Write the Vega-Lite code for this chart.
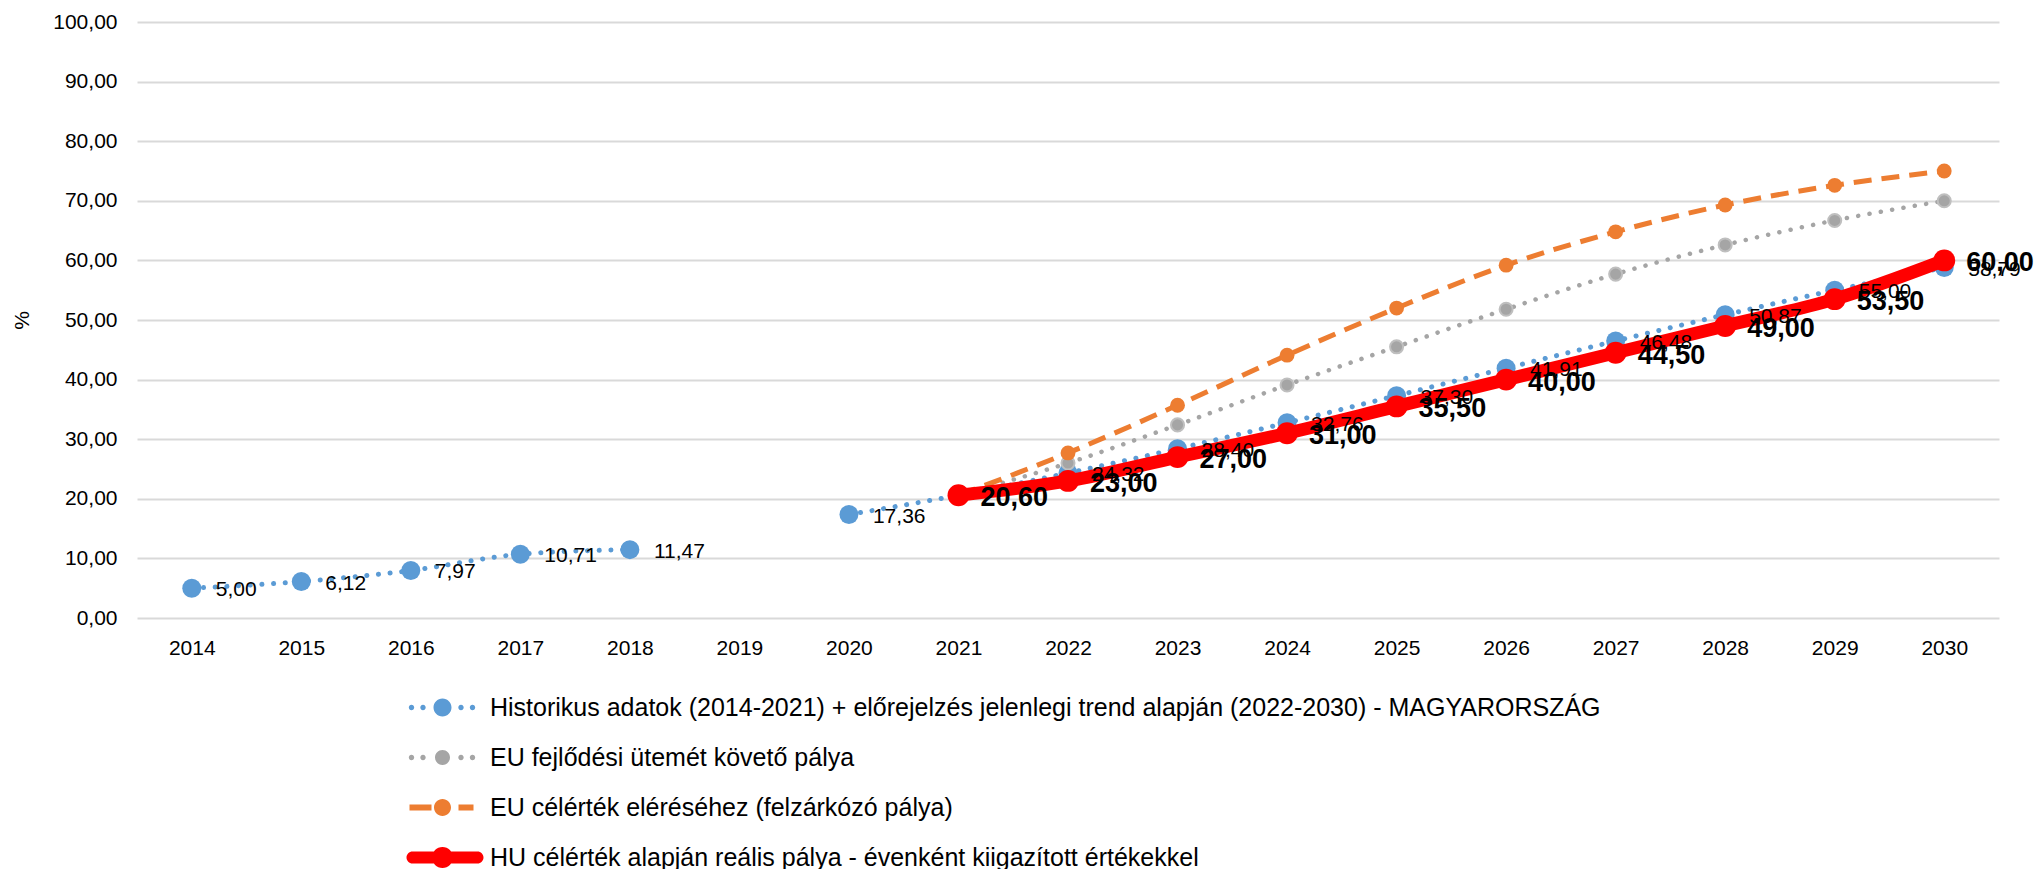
{
  "$schema": "https://vega.github.io/schema/vega-lite/v6.json",
  "width": 1862,
  "height": 596,
  "autosize": {"type": "none"},
  "padding": {"left": 137, "top": 22, "right": 39, "bottom": 251},
  "config": {
    "locale": {"number": {"decimal": ",", "thousands": " ", "grouping": [3], "currency": ["", ""]}},
    "view": {"stroke": null},
    "font": "Liberation Sans"
  },
  "datasets": {
    "hist": [
      {"series": "Historikus adatok (2014-2021) + előrejelzés jelenlegi trend alapján (2022-2030) - MAGYARORSZÁG", "year": 2014, "value": 5.00},
      {"series": "Historikus adatok (2014-2021) + előrejelzés jelenlegi trend alapján (2022-2030) - MAGYARORSZÁG", "year": 2015, "value": 6.12},
      {"series": "Historikus adatok (2014-2021) + előrejelzés jelenlegi trend alapján (2022-2030) - MAGYARORSZÁG", "year": 2016, "value": 7.97},
      {"series": "Historikus adatok (2014-2021) + előrejelzés jelenlegi trend alapján (2022-2030) - MAGYARORSZÁG", "year": 2017, "value": 10.71},
      {"series": "Historikus adatok (2014-2021) + előrejelzés jelenlegi trend alapján (2022-2030) - MAGYARORSZÁG", "year": 2018, "value": 11.47},
      {"series": "Historikus adatok (2014-2021) + előrejelzés jelenlegi trend alapján (2022-2030) - MAGYARORSZÁG", "year": 2019, "value": null},
      {"series": "Historikus adatok (2014-2021) + előrejelzés jelenlegi trend alapján (2022-2030) - MAGYARORSZÁG", "year": 2020, "value": 17.36},
      {"series": "Historikus adatok (2014-2021) + előrejelzés jelenlegi trend alapján (2022-2030) - MAGYARORSZÁG", "year": 2021, "value": 20.60},
      {"series": "Historikus adatok (2014-2021) + előrejelzés jelenlegi trend alapján (2022-2030) - MAGYARORSZÁG", "year": 2022, "value": 24.32},
      {"series": "Historikus adatok (2014-2021) + előrejelzés jelenlegi trend alapján (2022-2030) - MAGYARORSZÁG", "year": 2023, "value": 28.40},
      {"series": "Historikus adatok (2014-2021) + előrejelzés jelenlegi trend alapján (2022-2030) - MAGYARORSZÁG", "year": 2024, "value": 32.76},
      {"series": "Historikus adatok (2014-2021) + előrejelzés jelenlegi trend alapján (2022-2030) - MAGYARORSZÁG", "year": 2025, "value": 37.30},
      {"series": "Historikus adatok (2014-2021) + előrejelzés jelenlegi trend alapján (2022-2030) - MAGYARORSZÁG", "year": 2026, "value": 41.91},
      {"series": "Historikus adatok (2014-2021) + előrejelzés jelenlegi trend alapján (2022-2030) - MAGYARORSZÁG", "year": 2027, "value": 46.48},
      {"series": "Historikus adatok (2014-2021) + előrejelzés jelenlegi trend alapján (2022-2030) - MAGYARORSZÁG", "year": 2028, "value": 50.87},
      {"series": "Historikus adatok (2014-2021) + előrejelzés jelenlegi trend alapján (2022-2030) - MAGYARORSZÁG", "year": 2029, "value": 55.00},
      {"series": "Historikus adatok (2014-2021) + előrejelzés jelenlegi trend alapján (2022-2030) - MAGYARORSZÁG", "year": 2030, "value": 58.79}
    ],
    "eu": [
      {"series": "EU fejlődési ütemét követő pálya", "year": 2021, "value": 20.6},
      {"series": "EU fejlődési ütemét követő pálya", "year": 2022, "value": 26.0},
      {"series": "EU fejlődési ütemét követő pálya", "year": 2023, "value": 32.4},
      {"series": "EU fejlődési ütemét követő pálya", "year": 2024, "value": 39.1},
      {"series": "EU fejlődési ütemét követő pálya", "year": 2025, "value": 45.5},
      {"series": "EU fejlődési ütemét követő pálya", "year": 2026, "value": 51.8},
      {"series": "EU fejlődési ütemét követő pálya", "year": 2027, "value": 57.7},
      {"series": "EU fejlődési ütemét követő pálya", "year": 2028, "value": 62.6},
      {"series": "EU fejlődési ütemét követő pálya", "year": 2029, "value": 66.7},
      {"series": "EU fejlődési ütemét követő pálya", "year": 2030, "value": 70.0}
    ],
    "catch": [
      {"series": "EU célérték eléréséhez (felzárkózó pálya)", "year": 2021, "value": 20.6},
      {"series": "EU célérték eléréséhez (felzárkózó pálya)", "year": 2022, "value": 27.7},
      {"series": "EU célérték eléréséhez (felzárkózó pálya)", "year": 2023, "value": 35.7},
      {"series": "EU célérték eléréséhez (felzárkózó pálya)", "year": 2024, "value": 44.1},
      {"series": "EU célérték eléréséhez (felzárkózó pálya)", "year": 2025, "value": 52.0},
      {"series": "EU célérték eléréséhez (felzárkózó pálya)", "year": 2026, "value": 59.2},
      {"series": "EU célérték eléréséhez (felzárkózó pálya)", "year": 2027, "value": 64.8},
      {"series": "EU célérték eléréséhez (felzárkózó pálya)", "year": 2028, "value": 69.3},
      {"series": "EU célérték eléréséhez (felzárkózó pálya)", "year": 2029, "value": 72.6},
      {"series": "EU célérték eléréséhez (felzárkózó pálya)", "year": 2030, "value": 75.0}
    ],
    "hu": [
      {"series": "HU célérték alapján reális pálya - évenként kiigazított értékekkel", "year": 2021, "value": 20.60},
      {"series": "HU célérték alapján reális pálya - évenként kiigazított értékekkel", "year": 2022, "value": 23.00},
      {"series": "HU célérték alapján reális pálya - évenként kiigazított értékekkel", "year": 2023, "value": 27.00},
      {"series": "HU célérték alapján reális pálya - évenként kiigazított értékekkel", "year": 2024, "value": 31.00},
      {"series": "HU célérték alapján reális pálya - évenként kiigazított értékekkel", "year": 2025, "value": 35.50},
      {"series": "HU célérték alapján reális pálya - évenként kiigazított értékekkel", "year": 2026, "value": 40.00},
      {"series": "HU célérték alapján reális pálya - évenként kiigazított értékekkel", "year": 2027, "value": 44.50},
      {"series": "HU célérték alapján reális pálya - évenként kiigazított értékekkel", "year": 2028, "value": 49.00},
      {"series": "HU célérték alapján reális pálya - évenként kiigazított értékekkel", "year": 2029, "value": 53.50},
      {"series": "HU célérték alapján reális pálya - évenként kiigazított értékekkel", "year": 2030, "value": 60.00}
    ]
  },
  "encoding": {
    "x": {
      "field": "year", "type": "ordinal",
      "scale": {"domain": [2014, 2015, 2016, 2017, 2018, 2019, 2020, 2021, 2022, 2023, 2024, 2025, 2026, 2027, 2028, 2029, 2030], "padding": 0.5},
      "axis": {"title": null, "domain": false, "ticks": false, "grid": false, "labelAngle": 0, "labelFontSize": 21, "labelPadding": 19, "labelColor": "#000000"}
    },
    "y": {
      "field": "value", "type": "quantitative",
      "scale": {"domain": [0, 100], "nice": false},
      "axis": {"title": "%", "values": [0, 10, 20, 30, 40, 50, 60, 70, 80, 90, 100], "format": ".2f", "domain": false, "ticks": false, "gridColor": "#D9D9D9", "gridWidth": 2, "labelFontSize": 21, "labelPadding": 20, "labelColor": "#000000", "titleFontSize": 21, "titleFontWeight": "normal", "titleColor": "#000000", "titleX": -105, "titleY": 298}
    }
  },
  "layer": [
    {
      "data": {"name": "hist"},
      "mark": {"type": "line", "interpolate": "monotone", "invalid": "break-paths-filter-domains", "strokeCap": "round", "strokeWidth": 5, "strokeDash": [0.1, 11.6]},
      "encoding": {
        "color": {
          "field": "series", "type": "nominal",
          "scale": {
            "domain": ["Historikus adatok (2014-2021) + előrejelzés jelenlegi trend alapján (2022-2030) - MAGYARORSZÁG", "EU fejlődési ütemét követő pálya", "EU célérték eléréséhez (felzárkózó pálya)", "HU célérték alapján reális pálya - évenként kiigazított értékekkel"],
            "range": ["#5B9BD5", "#A5A5A5", "#ED7D31", "#FF0000"]
          },
          "legend": {
            "title": null, "orient": "none", "legendX": 293, "legendY": 673, "direction": "vertical",
            "symbolSize": 400, "symbolOpacity": 1,
            "labelFont": "Liberation Sans", "labelFontSize": 25, "labelLimit": 1600, "labelColor": "#000000", "labelOffset": 35,
            "rowPadding": 24,
            "encode": {
              "symbols": {
                "update": {
                  "shape": {"signal": "datum.index === 0 ? 'M-3.37,0A0.27,0.27,0,1,1,-2.83,0A0.27,0.27,0,1,1,-3.37,0ZM-2.22,0A0.27,0.27,0,1,1,-1.68,0A0.27,0.27,0,1,1,-2.22,0ZM1.58,0A0.27,0.27,0,1,1,2.12,0A0.27,0.27,0,1,1,1.58,0ZM2.73,0A0.27,0.27,0,1,1,3.27,0A0.27,0.27,0,1,1,2.73,0ZM-0.9,0A0.9,0.9,0,1,1,0.9,0A0.9,0.9,0,1,1,-0.9,0Z' : datum.index === 1 ? 'M-3.37,0A0.27,0.27,0,1,1,-2.83,0A0.27,0.27,0,1,1,-3.37,0ZM-2.22,0A0.27,0.27,0,1,1,-1.68,0A0.27,0.27,0,1,1,-2.22,0ZM1.58,0A0.27,0.27,0,1,1,2.12,0A0.27,0.27,0,1,1,1.58,0ZM2.73,0A0.27,0.27,0,1,1,3.27,0A0.27,0.27,0,1,1,2.73,0ZM-0.75,0A0.75,0.75,0,1,1,0.75,0A0.75,0.75,0,1,1,-0.75,0Z' : datum.index === 2 ? 'M-3.3,-0.3L-1.1,-0.3L-1.1,0.3L-3.3,0.3ZM1.6,-0.3L3.1,-0.3L3.1,0.3L1.6,0.3ZM-0.85,0A0.85,0.85,0,1,1,0.85,0A0.85,0.85,0,1,1,-0.85,0Z' : 'M-3.0,-0.6L-0.8,-0.6L-0.8,0.6L-3.0,0.6ZM0.8,-0.6L3.5,-0.6L3.5,0.6L0.8,0.6ZM-3.6,0A0.6,0.6,0,1,1,-2.4,0A0.6,0.6,0,1,1,-3.6,0ZM2.9,0A0.6,0.6,0,1,1,4.1,0A0.6,0.6,0,1,1,2.9,0ZM-1.05,0A1.05,1.05,0,1,1,1.05,0A1.05,1.05,0,1,1,-1.05,0Z'"},
                  "strokeWidth": {"value": 0},
                  "strokeDash": {"value": []},
                  "fill": {"scale": "color", "field": "value"},
                  "stroke": {"scale": "color", "field": "value"},
                  "opacity": {"value": 1},
                  "fillOpacity": {"value": 1}
                }
              }
            }
          }
        }
      }
    },
    {
      "data": {"name": "hist"},
      "mark": {"type": "point", "filled": true, "opacity": 1, "size": 360, "color": "#5B9BD5"}
    },
    {
      "data": {"name": "eu"},
      "mark": {"type": "line", "interpolate": "monotone", "strokeCap": "round", "strokeWidth": 4.5, "strokeDash": [0.1, 11.4]},
      "encoding": {"color": {"field": "series", "type": "nominal"}}
    },
    {
      "data": {"name": "eu"},
      "mark": {"type": "point", "filled": true, "opacity": 1, "size": 170, "color": "#A5A5A5", "stroke": "#BFBFBF", "strokeWidth": 2}
    },
    {
      "data": {"name": "catch"},
      "mark": {"type": "line", "interpolate": "monotone", "strokeCap": "butt", "strokeWidth": 5, "strokeDash": [18, 10]},
      "encoding": {"color": {"field": "series", "type": "nominal"}}
    },
    {
      "data": {"name": "catch"},
      "mark": {"type": "point", "filled": true, "opacity": 1, "size": 220, "color": "#ED7D31"}
    },
    {
      "data": {"name": "hu"},
      "mark": {"type": "line", "interpolate": "monotone", "strokeCap": "round", "strokeWidth": 13},
      "encoding": {"color": {"field": "series", "type": "nominal"}}
    },
    {
      "data": {"name": "hu"},
      "mark": {"type": "point", "filled": true, "opacity": 1, "size": 480, "color": "#FF0000"}
    },
    {
      "data": {"name": "hist"},
      "transform": [{"filter": "datum.value != null && datum.year != 2021"}],
      "mark": {"type": "text", "align": "left", "baseline": "middle", "dx": 24, "dy": 2, "fontSize": 21, "color": "#000000"},
      "encoding": {"text": {"field": "value", "type": "quantitative", "format": ".2f"}}
    },
    {
      "data": {"name": "hu"},
      "mark": {"type": "text", "align": "left", "baseline": "middle", "dx": 22, "dy": 3, "fontSize": 27, "fontWeight": "bold", "color": "#000000"},
      "encoding": {"text": {"field": "value", "type": "quantitative", "format": ".2f"}}
    }
  ]
}
